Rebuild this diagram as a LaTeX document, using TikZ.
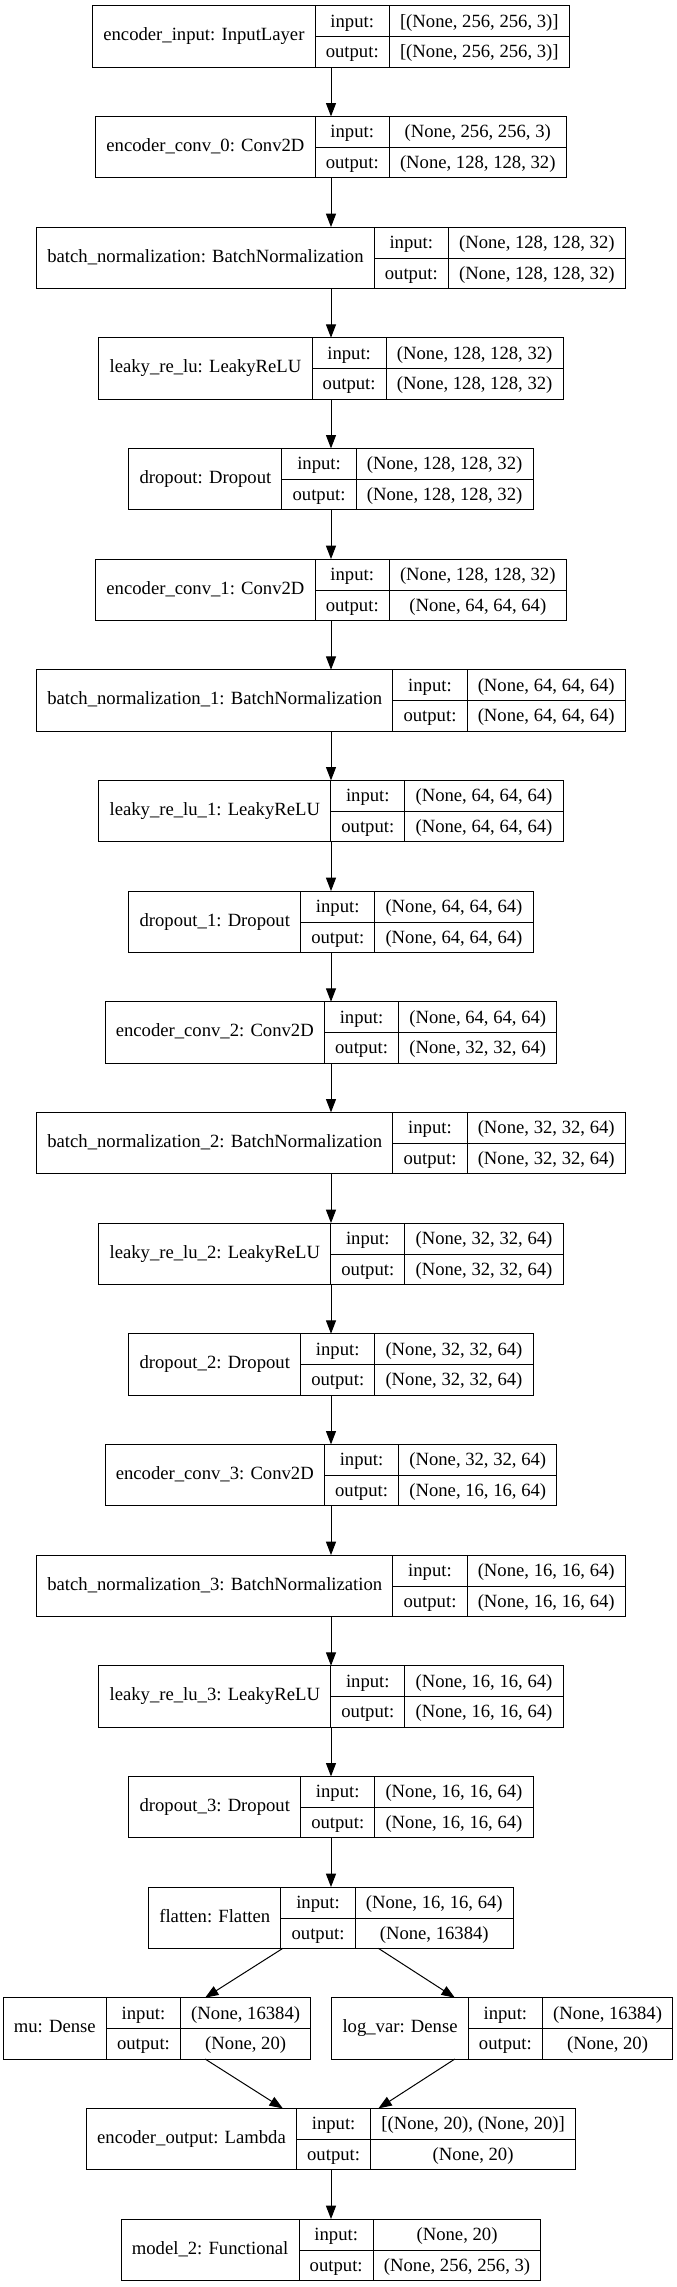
\documentclass[tikz,border=0pt]{standalone}
\usepackage{fontspec}
\usepackage{multirow}
\setmainfont{Liberation Serif}
\usetikzlibrary{arrows.meta,positioning}

\newcommand{\layerfont}{\fontsize{14}{16.8}\selectfont}
\renewcommand{\arraystretch}{1.369}
\setlength{\tabcolsep}{8pt}
\setlength{\arrayrulewidth}{0.75pt}

\tikzset{
  layer/.style={draw, rectangle, inner sep=0pt, outer sep=0pt, font=\layerfont}
}

% #1 name, #2 placement, #3 layer, #4 input shape, #5 output shape
\newcommand{\layer}[5]{%
  \node [layer, #2] (#1) {\begin{tabular}{c|c|c}
      \multirow{2}{*}{#3} & input: & #4 \\ \cline{2-3}
      & output: & #5
    \end{tabular}};
}

\begin{document}
\begin{tikzpicture}[line width=0.75pt, >={Triangle[length=10pt,width=7.5pt]}]
	\useasboundingbox (0,0) rectangle (507.75pt,-1715.25pt);
	
	\layer{input}{at={(248.25pt,-27.3pt)}}{encoder\_input: InputLayer}{[(None, 256, 256, 3)]}{[(None, 256, 256, 3)]}
	\layer{conv0}{below=37pt of input}{encoder\_conv\_0: Conv2D}{(None, 256, 256, 3)}{(None, 128, 128, 32)}
	\layer{bn0}{below=37pt of conv0}{batch\_normalization: BatchNormalization}{(None, 128, 128, 32)}{(None, 128, 128, 32)}
	\layer{lrelu0}{below=37pt of bn0}{leaky\_re\_lu: LeakyReLU}{(None, 128, 128, 32)}{(None, 128, 128, 32)}
	\layer{drop0}{below=37pt of lrelu0}{dropout: Dropout}{(None, 128, 128, 32)}{(None, 128, 128, 32)}
	\layer{conv1}{below=37pt of drop0}{encoder\_conv\_1: Conv2D}{(None, 128, 128, 32)}{(None, 64, 64, 64)}
	\layer{bn1}{below=37pt of conv1}{batch\_normalization\_1: BatchNormalization}{(None, 64, 64, 64)}{(None, 64, 64, 64)}
	\layer{lrelu1}{below=37pt of bn1}{leaky\_re\_lu\_1: LeakyReLU}{(None, 64, 64, 64)}{(None, 64, 64, 64)}
	\layer{drop1}{below=37pt of lrelu1}{dropout\_1: Dropout}{(None, 64, 64, 64)}{(None, 64, 64, 64)}
	\layer{conv2}{below=37pt of drop1}{encoder\_conv\_2: Conv2D}{(None, 64, 64, 64)}{(None, 32, 32, 64)}
	\layer{bn2}{below=37pt of conv2}{batch\_normalization\_2: BatchNormalization}{(None, 32, 32, 64)}{(None, 32, 32, 64)}
	\layer{lrelu2}{below=37pt of bn2}{leaky\_re\_lu\_2: LeakyReLU}{(None, 32, 32, 64)}{(None, 32, 32, 64)}
	\layer{drop2}{below=37pt of lrelu2}{dropout\_2: Dropout}{(None, 32, 32, 64)}{(None, 32, 32, 64)}
	\layer{conv3}{below=37pt of drop2}{encoder\_conv\_3: Conv2D}{(None, 32, 32, 64)}{(None, 16, 16, 64)}
	\layer{bn3}{below=37pt of conv3}{batch\_normalization\_3: BatchNormalization}{(None, 16, 16, 64)}{(None, 16, 16, 64)}
	\layer{lrelu3}{below=37pt of bn3}{leaky\_re\_lu\_3: LeakyReLU}{(None, 16, 16, 64)}{(None, 16, 16, 64)}
	\layer{drop3}{below=37pt of lrelu3}{dropout\_3: Dropout}{(None, 16, 16, 64)}{(None, 16, 16, 64)}
	\layer{flatten}{below=37pt of drop3}{flatten: Flatten}{(None, 16, 16, 64)}{(None, 16384)}
	\layer{mu}{below=37pt of flatten, xshift=-130.55pt}{mu: Dense}{(None, 16384)}{(None, 20)}
	\layer{logvar}{below=37pt of flatten, xshift=128.45pt}{log\_var: Dense}{(None, 16384)}{(None, 20)}
	\layer{encout}{below=120pt of flatten}{encoder\_output: Lambda}{[(None, 20), (None, 20)]}{(None, 20)}
	\layer{decoder}{below=37pt of encout}{model\_2: Functional}{(None, 20)}{(None, 256, 256, 3)}
	
	\draw [->] (input) -- (conv0);
	\draw [->] (conv0) -- (bn0);
	\draw [->] (bn0) -- (lrelu0);
	\draw [->] (lrelu0) -- (drop0);
	\draw [->] (drop0) -- (conv1);
	\draw [->] (conv1) -- (bn1);
	\draw [->] (bn1) -- (lrelu1);
	\draw [->] (lrelu1) -- (drop1);
	\draw [->] (drop1) -- (conv2);
	\draw [->] (conv2) -- (bn2);
	\draw [->] (bn2) -- (lrelu2);
	\draw [->] (lrelu2) -- (drop2);
	\draw [->] (drop2) -- (conv3);
	\draw [->] (conv3) -- (bn3);
	\draw [->] (bn3) -- (lrelu3);
	\draw [->] (lrelu3) -- (drop3);
	\draw [->] (drop3) -- (flatten);
	\draw [->] (flatten) -- (mu);
	\draw [->] (flatten) -- (logvar);
	\draw [->] (mu) -- (encout);
	\draw [->] (logvar) -- (encout);
	\draw [->] (encout) -- (decoder);
	
\end{tikzpicture}
\end{document}
